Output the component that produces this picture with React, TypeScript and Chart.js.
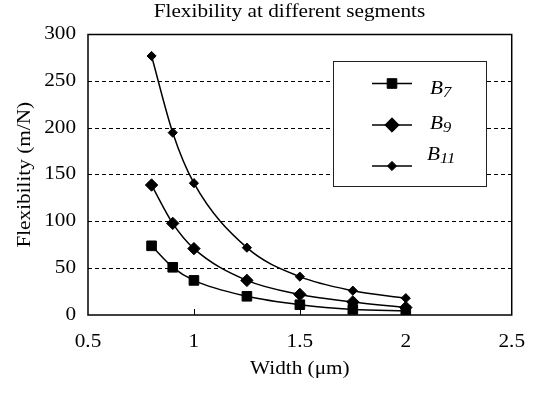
import { useEffect, useRef } from 'react';
import { Chart, registerables } from 'chart.js';

Chart.register(...registerables);

// ---- data ----
const widths = [0.8, 0.9, 1.0, 1.25, 1.5, 1.75, 2.0];
const b7 = [74, 51, 37, 20, 11, 6, 4.5];
const b9 = [139, 98, 71, 37, 22, 14, 8];
const b11 = [277, 195, 141, 72, 41, 26, 18];
const seriesBase = ['B', 'B', 'B'];
const seriesSubs = ['7', '9', '11'];
const xTicks = [0.5, 1, 1.5, 2, 2.5];
const xTickLabels = ['0.5', '1', '1.5', '2', '2.5'];
const yTicks = [0, 50, 100, 150, 200, 250, 300];
const chartTitle = 'Flexibility at different segments';
const xTitle = 'Width (μm)';
const yTitle = 'Flexibility (m/N)';

const FONT = '"Liberation Serif", "Times New Roman", serif';
const SX = 1.18; // horizontal text widening along the text direction

function patchContext(ctx: any) {
  if (ctx.__patched) return;
  ctx.__patched = true;
  const fill = ctx.fillText.bind(ctx);
  const measure = ctx.measureText.bind(ctx);
  ctx.fillText = (t: string, x: number, y: number, mw?: number) => {
    ctx.save();
    ctx.translate(x, y);
    ctx.scale(SX, 1);
    if (mw === undefined || mw === null) fill(t, 0, 0);
    else fill(t, 0, 0, mw / SX);
    ctx.restore();
  };
  ctx.measureText = (t: string) => {
    const m = measure(t);
    return {
      width: m.width * SX,
      actualBoundingBoxAscent: m.actualBoundingBoxAscent,
      actualBoundingBoxDescent: m.actualBoundingBoxDescent,
      actualBoundingBoxLeft: m.actualBoundingBoxLeft * SX,
      actualBoundingBoxRight: m.actualBoundingBoxRight * SX,
      fontBoundingBoxAscent: m.fontBoundingBoxAscent,
      fontBoundingBoxDescent: m.fontBoundingBoxDescent,
    };
  };
}

function drawMarker(ctx: CanvasRenderingContext2D, style: string, x: number, y: number, r: number) {
  ctx.beginPath();
  if (style === 'rect') {
    const s = Math.SQRT1_2 * r;
    ctx.rect(x - s, y - s, 2 * s, 2 * s);
  } else {
    ctx.moveTo(x - r, y);
    ctx.lineTo(x, y - r);
    ctx.lineTo(x + r, y);
    ctx.lineTo(x, y + r);
    ctx.closePath();
  }
  ctx.fill();
  ctx.stroke();
}

const styles = ['rect', 'rectRot', 'rectRot'];
const radii = [6.8, 6.2, 4.6];

const decor = {
  id: 'decor',
  afterDraw(chart: any) {
    const ctx: CanvasRenderingContext2D = chart.ctx;
    const { left, right, top, bottom } = chart.chartArea;
    ctx.save();
    // frame
    ctx.strokeStyle = '#000';
    ctx.lineWidth = 1.5;
    ctx.setLineDash([]);
    ctx.strokeRect(left, top, right - left, bottom - top);
    // inner x ticks
    const xs = chart.scales.x;
    ctx.lineWidth = 1;
    xTicks.slice(1, -1).forEach((v) => {
      const px = Math.round(xs.getPixelForValue(v)) + 0.5;
      ctx.beginPath();
      ctx.moveTo(px, bottom);
      ctx.lineTo(px, bottom - 6);
      ctx.stroke();
    });
    // title
    ctx.fillStyle = '#000';
    ctx.font = `18px ${FONT}`;
    ctx.textAlign = 'center';
    ctx.textBaseline = 'middle';
    ctx.fillText(chartTitle, 289.5, 12);

    // legend box
    ctx.lineWidth = 1;
    ctx.strokeStyle = '#222';
    ctx.fillStyle = '#fff';
    ctx.fillRect(333, 61, 154, 126);
    ctx.strokeRect(333.5, 61.5, 153, 125);

    const lineYs = [83.5, 125, 166];
    const textYs = [93.5, 128.5, 159.5];
    const textXs = [430, 430, 427];
    const legendR = [6.8, 7.2, 4.6];
    for (let i = 0; i < 3; i++) {
      ctx.strokeStyle = '#000';
      ctx.fillStyle = '#000';
      ctx.lineWidth = 1.5;
      ctx.beginPath();
      ctx.moveTo(372, lineYs[i]);
      ctx.lineTo(412, lineYs[i]);
      ctx.stroke();
      ctx.lineWidth = 1;
      drawMarker(ctx, styles[i], 392, lineYs[i], legendR[i]);
      ctx.textAlign = 'left';
      ctx.textBaseline = 'alphabetic';
      ctx.font = `italic 18px ${FONT}`;
      ctx.fillText(seriesBase[i], textXs[i], textYs[i]);
      const w = ctx.measureText(seriesBase[i]).width;
      ctx.font = `italic 14px ${FONT}`;
      ctx.fillText(seriesSubs[i], textXs[i] + w, textYs[i] + 3.5);
    }
    ctx.restore();
  },
};

export default function App() {
  const ref = useRef<HTMLCanvasElement>(null);
  useEffect(() => {
    const canvas = ref.current!;
    const ctx = canvas.getContext('2d')!;
    patchContext(ctx);
    const series = [b7, b9, b11];
    const chart = new Chart(canvas, {
      type: 'line',
      data: {
        datasets: series.map((s, i) => ({
          label: seriesBase[i] + seriesSubs[i],
          data: widths.map((w, j) => ({ x: w, y: s[j] })),
          borderColor: '#000',
          backgroundColor: '#000',
          borderWidth: 1.5,
          pointStyle: styles[i] as any,
          pointRadius: radii[i],
          pointBorderWidth: 1,
          pointBackgroundColor: '#000',
          pointBorderColor: '#000',
          cubicInterpolationMode: 'monotone' as const,
          fill: false,
        })),
      },
      options: {
        responsive: false,
        animation: false,
        devicePixelRatio: 1,
        layout: { padding: { top: 34.5, right: 29, left: 0, bottom: 0 } },
        plugins: {
          legend: { display: false },
          title: { display: false },
          tooltip: { enabled: false },
        },
        scales: {
          x: {
            type: 'linear',
            min: 0.5,
            max: 2.5,
            afterBuildTicks: (s: any) => {
              s.ticks = xTicks.map((v) => ({ value: v }));
            },
            afterFit: (s: any) => {
              s.height = 79;
            },
            grid: { display: false, drawTicks: false },
            border: { display: false },
            ticks: {
              padding: 16,
              color: '#000',
              font: { family: FONT, size: 18 },
              maxRotation: 0,
              autoSkip: false,
              callback: (v: any) => {
                const i = xTicks.indexOf(Number(v));
                return i >= 0 ? xTickLabels[i] : String(v);
              },
            },
            title: {
              display: true,
              text: xTitle,
              color: '#000',
              font: { family: FONT, size: 18 },
              padding: { top: 0, bottom: 14 },
            },
          },
          y: {
            type: 'linear',
            min: 0,
            max: 300,
            afterBuildTicks: (s: any) => {
              s.ticks = yTicks.map((v) => ({ value: v }));
            },
            afterFit: (s: any) => {
              s.width = 88;
            },
            grid: {
              drawTicks: false,
              color: (c: any) =>
                c.tick && (c.tick.value === 0 || c.tick.value === 300) ? 'rgba(0,0,0,0)' : '#000',
              lineWidth: 1,
            },
            border: { display: false, dash: [4, 3] },
            ticks: {
              padding: 12,
              color: '#000',
              font: { family: FONT, size: 18 },
              autoSkip: false,
            },
            title: {
              display: true,
              text: yTitle,
              color: '#000',
              font: { family: FONT, size: 18 },
              padding: { top: 14, bottom: 0 },
            },
          },
        },
      },
      plugins: [decor],
    });
    return () => chart.destroy();
  }, []);
  return (
    <div style={{ position: 'absolute', left: 0, top: 0, width: 541, height: 394, background: '#fff' }}>
      <canvas ref={ref} width={541} height={394} style={{ display: 'block' }} />
    </div>
  );
}
